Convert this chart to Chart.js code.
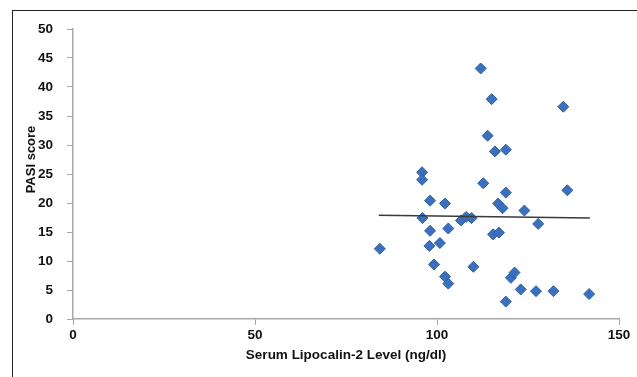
<!DOCTYPE html>
<html>
<head>
<meta charset="utf-8">
<script src="https://cdn.jsdelivr.net/npm/chart.js@4/dist/chart.umd.min.js"></script>
<style>
  html, body { margin: 0; padding: 0; background: #fff; }
  #wrap { position: relative; width: 637px; height: 377px; overflow: hidden; }
  #frame { position: absolute; left: 12px; top: 10px; width: 700px; height: 400px;
           border-left: 1px solid #222; border-top: 1px solid #222; pointer-events: none; }
  canvas { position: absolute; left: 0; top: 0; }
</style>
</head>
<body>
<div id="wrap">
  <canvas id="c" width="637" height="377"></canvas>
  <div id="frame"></div>
</div>
<script>
// Serum Lipocalin-2 level (ng/dl)
const lipocalin = [84.3, 95.9, 95.9, 98.1, 102.2, 96.0, 106.6, 108.0, 109.5, 98.1,
                   103.1, 115.4, 117.0, 97.9, 100.8, 99.2, 102.2, 103.1, 110.0, 112.7,
                   135.8, 118.9, 116.8, 118.0, 124.0, 127.8, 115.9, 118.9, 112.0, 115.0,
                   134.7, 113.9, 120.3, 121.3, 123.0, 127.2, 132.0, 141.8, 118.9];
// PASI score
const pasi = [12.1, 25.3, 24.0, 20.4, 19.9, 17.4, 17.0, 17.6, 17.4, 15.2,
              15.6, 14.6, 14.9, 12.6, 13.1, 9.4, 7.3, 6.1, 9.0, 23.4,
              22.2, 21.8, 19.9, 19.1, 18.7, 16.4, 28.9, 29.2, 43.2, 37.9,
              36.6, 31.6, 7.1, 8.0, 5.1, 4.8, 4.8, 4.3, 3.0];
// Linear trendline end points
const trendX = [84, 142];
const trendY = [17.9, 17.4];

const xTicks = [0, 50, 100, 150];
const yTicks = [0, 5, 10, 15, 20, 25, 30, 35, 40, 45, 50];

const xTitle = 'Serum Lipocalin-2 Level (ng/dl)';
const yTitle = 'PASI score';

const points = lipocalin.map((x, i) => ({ x: x, y: pasi[i] }));
const trend = trendX.map((x, i) => ({ x: x, y: trendY[i] }));

const FAMILY = '"Liberation Sans", Arial, sans-serif';
const font = { family: FAMILY, size: 13.5, weight: 'bold' };

// y-axis title, placed as in the reference (slightly above the plot centre)
const yTitlePlugin = {
  id: 'yTitle',
  afterDraw(chart) {
    const ctx = chart.ctx;
    const area = chart.chartArea;
    ctx.save();
    ctx.font = 'bold 13px ' + FAMILY;
    ctx.fillStyle = '#111';
    ctx.textAlign = 'center';
    ctx.textBaseline = 'middle';
    ctx.translate(31, area.top + (area.bottom - area.top) * 0.45);
    ctx.rotate(-Math.PI / 2);
    ctx.fillText(yTitle, 0, 0);
    ctx.restore();
  }
};

new Chart(document.getElementById('c'), {
  type: 'scatter',
  data: {
    datasets: [
      {
        label: 'PASI',
        data: points,
        pointStyle: 'rectRot',
        pointRadius: 5.5,
        pointBackgroundColor: '#3a70bd',
        pointBorderColor: '#30619f',
        pointBorderWidth: 1,
        order: 1
      },
      {
        label: 'Trend',
        type: 'line',
        data: trend,
        borderColor: '#3a3a3a',
        borderWidth: 1.5,
        pointRadius: 0,
        fill: false,
        order: 0
      }
    ]
  },
  plugins: [yTitlePlugin],
  options: {
    responsive: false,
    animation: false,
    devicePixelRatio: 1,
    layout: { padding: { top: 29, right: 18, left: 0, bottom: 0 } },
    plugins: { legend: { display: false }, tooltip: { enabled: false } },
    scales: {
      x: {
        type: 'linear',
        min: 0, max: 150,
        afterBuildTicks: s => { s.ticks = xTicks.map(v => ({ value: v })); },
        afterFit: s => { s.height = 58; },
        border: { display: true, color: '#a8a8a8', width: 1.5 },
        grid: { drawOnChartArea: false, drawTicks: true, tickLength: 6, color: '#a8a8a8' },
        ticks: { color: '#111', font: font, padding: 2, maxRotation: 0 },
        title: { display: true, text: xTitle, color: '#111', font: font, padding: { top: 0, bottom: 14 } }
      },
      y: {
        type: 'linear',
        min: 0, max: 50,
        afterBuildTicks: s => { s.ticks = yTicks.map(v => ({ value: v })); },
        afterFit: s => { s.width = 73; },
        border: { display: true, color: '#a8a8a8', width: 1.5 },
        grid: { drawOnChartArea: false, drawTicks: true, tickLength: 6, color: '#a8a8a8' },
        ticks: { color: '#111', font: font, padding: 14 },
        title: { display: false }
      }
    }
  }
});
</script>
</body>
</html>
